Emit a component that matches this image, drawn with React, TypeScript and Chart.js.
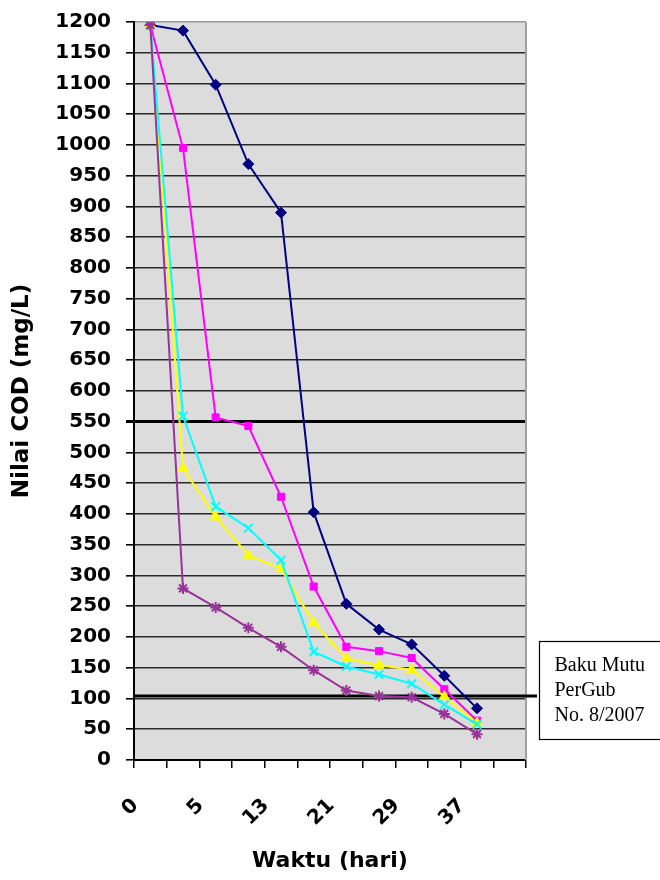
import React, { useEffect, useRef } from "react";
import { Chart, registerables } from "chart.js";

Chart.register(...registerables);

const X_LABELS = ["0", "", "5", "", "13", "", "21", "", "29", "", "37", ""];
const SERIES_A = [1195, 1186, 1098, 969, 890, 403, 254, 212, 188, 137, 84];
const SERIES_B = [1195, 995, 557, 543, 428, 282, 184, 177, 166, 115, 64];
const SERIES_C = [1195, 474, 395, 333, 311, 223, 165, 154, 147, 103, 60];
const SERIES_D = [1195, 559, 412, 377, 325, 176, 152, 139, 124, 90, 58];
const SERIES_E = [1195, 279, 248, 215, 184, 146, 113, 104, 102, 75, 42];
const BAKU_MUTU = 104;
const BAKU_TEXT = ["Baku Mutu", "PerGub", "No. 8/2007"];
const Y_TITLE = "Nilai COD (mg/L)";
const X_TITLE = "Waktu (hari)";

const decorPlugin = {
  id: "decor",
  beforeDraw(chart: any) {
    const { ctx, chartArea: a } = chart;
    ctx.save();
    ctx.fillStyle = "#dcdcdc";
    ctx.fillRect(a.left, a.top, a.right - a.left, a.bottom - a.top);
    ctx.restore();
  },
  beforeDatasetsDraw(chart: any) {
    const { ctx, chartArea: a, scales } = chart;
    ctx.save();
    ctx.strokeStyle = "#a0a0a0";
    ctx.lineWidth = 2;
    ctx.beginPath();
    ctx.moveTo(a.right, a.top);
    ctx.lineTo(a.right, a.bottom);
    ctx.stroke();
    const y = scales.y.getPixelForValue(BAKU_MUTU);
    ctx.strokeStyle = "#000";
    ctx.lineWidth = 3;
    ctx.beginPath();
    ctx.moveTo(a.left, y);
    ctx.lineTo(a.right + 11, y);
    ctx.stroke();
    ctx.restore();
  },
  afterDraw(chart: any) {
    const { ctx, chartArea: a } = chart;
    ctx.save();
    const bx = a.right + 13.5;
    const by = 641.5;
    ctx.fillStyle = "#fff";
    ctx.fillRect(bx, by, 140, 98);
    ctx.strokeStyle = "#000";
    ctx.lineWidth = 1.2;
    ctx.strokeRect(bx, by, 140, 98);
    ctx.fillStyle = "#000";
    ctx.font = '20px "Liberation Serif", serif';
    ctx.textBaseline = "alphabetic";
    ctx.textAlign = "left";
    BAKU_TEXT.forEach((t, i) => ctx.fillText(t, bx + 15, by + 29 + i * 25));
    ctx.restore();
  },
};

export default function App() {
  const ref = useRef<HTMLCanvasElement | null>(null);

  useEffect(() => {
    document.body.style.margin = "0";
    const canvas = ref.current;
    if (!canvas) return;
    const tickFont = { family: '"DejaVu Sans", sans-serif', size: 20, weight: "bold" as const };
    const titleFont = { family: '"DejaVu Sans", sans-serif', size: 22, weight: "bold" as const };
    const mk = (data: number[], color: string, style: string, radius: number, order: number) => ({
      data,
      borderColor: color,
      backgroundColor: color,
      borderWidth: 2,
      pointStyle: style,
      pointRadius: radius,
      pointBorderWidth: style === "crossRot" || style === "star" ? 2 : 1,
      pointBorderColor: color,
      pointBackgroundColor: color,
      tension: 0,
      fill: false,
      order,
    });
    const chart = new Chart(canvas, {
      type: "line",
      data: {
        labels: X_LABELS,
        datasets: [
          { label: "A", ...mk(SERIES_A, "#000080", "rectRot", 5.5, 5) },
          { label: "B", ...mk(SERIES_B, "#ff00ff", "rect", 5, 4) },
          { label: "C", ...mk(SERIES_C, "#ffff00", "triangle", 6, 3) },
          { label: "D", ...mk(SERIES_D, "#00ffff", "crossRot", 6, 2) },
          { label: "E", ...mk(SERIES_E, "#993399", "star", 5.5, 1) },
        ] as any,
      },
      options: {
        responsive: false,
        animation: false,
        devicePixelRatio: 1,
        events: [],
        layout: { padding: { left: 0, top: 22, right: 134, bottom: 0 } },
        plugins: { legend: { display: false }, tooltip: { enabled: false } },
        scales: {
          x: {
            type: "category",
            offset: true,
            afterFit: (s: any) => {
              s.height = 120;
            },
            grid: {
              display: true,
              drawOnChartArea: false,
              offset: true,
              color: "#000",
              lineWidth: 1.5,
              tickLength: 8,
            },
            border: { color: "#000", width: 2 },
            ticks: {
              autoSkip: false,
              maxRotation: 45,
              minRotation: 45,
              color: "#000",
              font: tickFont,
              padding: 26,
              labelOffset: -15,
            },
            title: {
              display: true,
              text: X_TITLE,
              color: "#000",
              font: titleFont,
              padding: { top: 0, bottom: 6 },
            },
          },
          y: {
            type: "linear",
            min: 0,
            max: 1200,
            afterFit: (s: any) => {
              s.width = 134;
              s.paddingTop = 10;
              s.paddingBottom = 10;
            },
            grid: {
              color: (c: any) =>
                c.tick && c.tick.value === 1200 ? "#9a9a9a" : c.tick && c.tick.value === 550 ? "#000" : "#2a2a2a",
              lineWidth: (c: any) => (c.tick && c.tick.value === 550 ? 3 : 1.6),
              tickColor: "#000",
              tickLength: 8,
            },
            border: { color: "#000", width: 2 },
            ticks: {
              stepSize: 50,
              maxTicksLimit: 100,
              autoSkip: false,
              color: "#000",
              font: tickFont,
              padding: 15,
              callback: (v: any) => String(v),
            },
            title: {
              display: true,
              text: Y_TITLE,
              color: "#000",
              font: { ...titleFont, size: 23 },
              padding: { top: 8, bottom: 0 },
            },
          },
        },
      } as any,
      plugins: [decorPlugin],
    });
    return () => chart.destroy();
  }, []);

  return (
    <div style={{ position: "absolute", left: 0, top: 0, width: 660, height: 880, overflow: "hidden" }}>
      <canvas ref={ref} width={660} height={880} style={{ width: 660, height: 880, display: "block" }} />
    </div>
  );
}
